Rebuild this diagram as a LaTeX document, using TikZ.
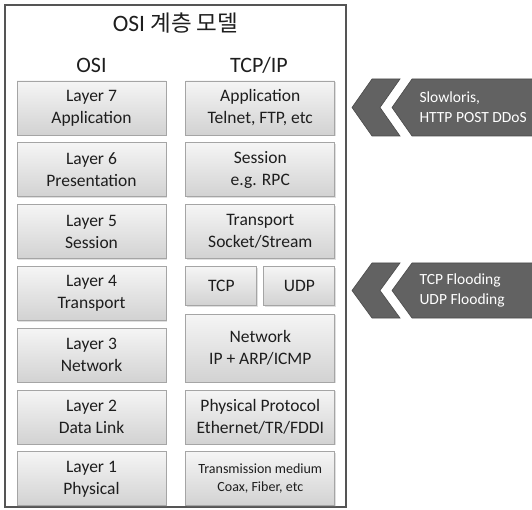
\documentclass[tikz,border=0pt]{standalone}
\usepackage{fontspec}
\setmainfont{Carlito}
\newfontfamily\krfont{Noto Sans CJK KR}
\usetikzlibrary{positioning, calc, shadows}
\definecolor{frameGray}{RGB}{85, 85, 85}
\definecolor{boxBorder}{RGB}{165, 165, 165}
\definecolor{boxTop}{RGB}{245, 245, 245}
\definecolor{boxBottom}{RGB}{210, 210, 210}
\definecolor{chevronGray}{RGB}{98, 98, 98}
\definecolor{labelText}{RGB}{30, 30, 30}

\begin{document}
\begin{tikzpicture}[
        x=1pt, y=-1pt,
        layerBox/.style={rectangle, draw=boxBorder, line width=0.8pt, top color=boxTop, bottom color=boxBottom, minimum width=149pt, minimum height=54pt, inner sep=0pt, align=center, text=labelText, font=\fontsize{17.5}{22}\selectfont, drop shadow={shadow xshift=1pt, shadow yshift=-1.2pt, opacity=0.25}},
        protoBox/.style={layerBox, minimum width=71pt, minimum height=39pt},
        netBox/.style={layerBox, minimum height=68pt},
        headText/.style={anchor=base, text=labelText, font=\fontsize{22}{26}\selectfont},
        attackText/.style={anchor=west, align=left, text=white, font=\fontsize{15.5}{20}\selectfont},
        chevron/.style={fill=chevronGray, draw=chevronGray!75!black, line width=0.6pt}
    ]
        \useasboundingbox (0,0) rectangle (532,510);
        \draw[frameGray, line width=2.2pt] (5,5) rectangle (346,507);

        \node[headText, font=\fontsize{23.5}{28}\selectfont] (title) at (175.5,32) {OSI {\krfont\fontsize{22.5}{28}\selectfont 계층 모델}};
        \node[headText] (osiHead) at (91.5,73) {OSI};
        \node[headText] (tcpipHead) at (259,73) {TCP/IP};

        % OSI column
        \node[layerBox] (l7) at (91.5,108) {Layer 7\\Application};
        \node[layerBox, below=7pt of l7] (l6) {Layer 6\\Presentation};
        \node[layerBox, below=7pt of l6] (l5) {Layer 5\\Session};
        \node[layerBox, below=7pt of l5] (l4) {Layer 4\\Transport};
        \node[layerBox, below=7pt of l4] (l3) {Layer 3\\Network};
        \node[layerBox, below=7pt of l3] (l2) {Layer 2\\Data Link};
        \node[layerBox, below=7pt of l2] (l1) {Layer 1\\Physical};

        % TCP/IP column
        \node[layerBox, right=19pt of l7] (app) {Application\\Telnet, FTP, etc};
        \node[layerBox, below=7pt of app] (session) {Session\\e.g. RPC};
        \node[layerBox, below=7pt of session] (transport) {Transport\\Socket/Stream};
        \node[protoBox, anchor=north west] (tcp) at ([yshift=-7pt]transport.south west) {TCP};
        \node[protoBox, anchor=north east] (udp) at ([yshift=-7pt]transport.south east) {UDP};
        \node[netBox, anchor=north] (network) at ([yshift=-8pt]tcp.south -| transport) {Network\\IP + ARP/ICMP};
        \node[layerBox, below=7pt of network] (physProto) {Physical Protocol\\Ethernet/TR/FDDI};
        \node[layerBox, below=7pt of physProto, font=\fontsize{14}{18}\selectfont] (medium) {Transmission medium\\Coax, Fiber, etc};

        % attack markers
        \draw[chevron] (372,79) -- (400,79) -- (380,107.5) -- (400,136) -- (372,136) -- (352,107.5) -- cycle;
        \draw[chevron] (412,79) -- (533,79) -- (533,136) -- (412,136) -- (392,107.5) -- cycle;
        \node[attackText] (ddos) at (416,107.5) {Slowloris,\\HTTP POST DDoS};

        \draw[chevron] (372,263) -- (400,263) -- (380,290.5) -- (400,318) -- (372,318) -- (352,290.5) -- cycle;
        \draw[chevron] (412,263) -- (533,263) -- (533,318) -- (412,318) -- (392,290.5) -- cycle;
        \node[attackText] (flooding) at (416,290.5) {TCP Flooding\\UDP Flooding};
    \end{tikzpicture}
\end{document}
